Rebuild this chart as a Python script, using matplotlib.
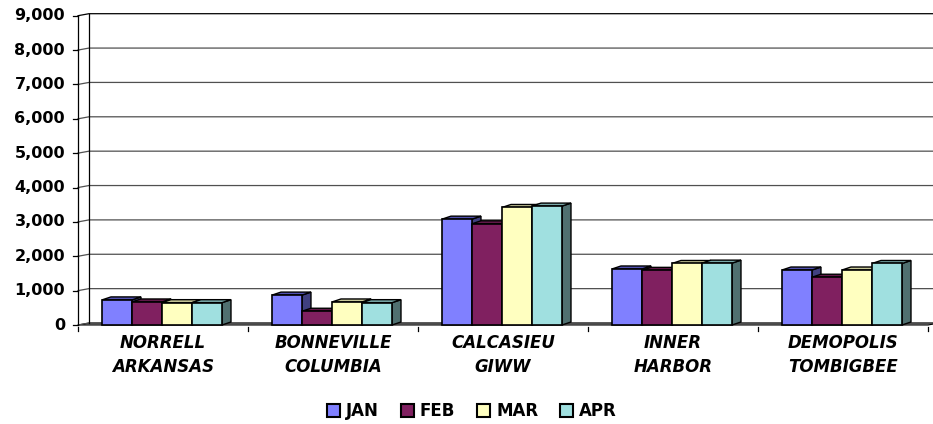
import matplotlib
matplotlib.use("Agg")
import matplotlib.pyplot as plt
from matplotlib.patches import Polygon, Patch
from matplotlib.transforms import IdentityTransform
import numpy as np

categories = ["NORRELL\nARKANSAS", "BONNEVILLE\nCOLUMBIA", "CALCASIEU\nGIWW", "INNER\nHARBOR", "DEMOPOLIS\nTOMBIGBEE"]
series_names = ["JAN", "FEB", "MAR", "APR"]
jan = [730, 870, 3080, 1630, 1600]
feb = [670, 400, 2945, 1590, 1390]
mar = [650, 670, 3420, 1790, 1600]
apr = [650, 650, 3460, 1800, 1790]
yticks = [0, 1000, 2000, 3000, 4000, 5000, 6000, 7000, 8000, 9000]
ytick_labels = ["0", "1,000", "2,000", "3,000", "4,000", "5,000", "6,000", "7,000", "8,000", "9,000"]

front_cols = ["#8080FF", "#802060", "#FFFFC0", "#A0E0E0"]
top_cols = ["#5050B0", "#601848", "#C8C898", "#78A8A8"]
side_cols = ["#404080", "#401030", "#808060", "#507070"]

plt.rcParams['font.family'] = ['DejaVu Sans']

W, H = 933, 424
fig = plt.figure(figsize=(W / 100, H / 100), dpi=100)
ax = fig.add_axes([78 / W, 1 - 325 / H, 850 / W, (325 - 15.7) / H])
ax.set_xlim(0, len(categories))
ax.set_ylim(0, 9000)
ax.axis("off")

T = IdentityTransform()
td = ax.transData
WDX, WDY = 11, 2.0   # wall depth (pixels)
BDX, BDY = 9, 3      # bar depth (pixels)

def disp(x, y):
    return td.transform((x, y))

# floor
p0 = disp(0, 0); p1 = disp(len(categories), 0)
floor = [p0, p1, p1 + [WDX, WDY], p0 + [WDX, WDY]]
ax.add_patch(Polygon(floor, closed=True, facecolor="#A0A0A0", edgecolor="black",
                     lw=0.8, transform=T, clip_on=False, zorder=1))

# gridlines (side wall diagonal + back wall horizontal)
for v, lab in zip(yticks, ytick_labels):
    f = disp(0, v)
    b = f + [WDX, WDY]
    ax.plot([f[0], b[0], W + 5], [f[1], b[1], b[1]], color="black" if v == 9000 else "#505050",
            lw=0.9, transform=T, clip_on=False, zorder=1)
    ax.plot([f[0] - 5, f[0]], [f[1], f[1]], color="black", lw=0.9, transform=T, clip_on=False)
    ax.text(f[0] - 13, f[1], lab, ha="right", va="center",
            fontsize=11.5, fontweight="bold", transform=T)

# back wall left edge
a = disp(0, 0) + [WDX, WDY]; bb = disp(0, 9000) + [WDX, WDY]
ax.plot([a[0], bb[0]], [a[1], bb[1]], color="black", lw=0.9, transform=T, clip_on=False)
# front value axis
a = disp(0, 0); bb = disp(0, 9000)
ax.plot([a[0], bb[0]], [a[1], bb[1]], color="black", lw=0.9, transform=T, clip_on=False, zorder=3)
# category ticks
for i in range(len(categories) + 1):
    p = disp(i, 0)
    ax.plot([p[0], p[0]], [p[1] - 2, p[1] - 6], color="black", lw=0.9, transform=T, clip_on=False)

# bars
data = [jan, feb, mar, apr]
start = 0.141
bw = 0.1765
for i in range(len(categories)):
    for k in range(4):
        h = data[k][i]
        x0 = i + start + k * bw
        x1 = x0 + bw
        bl = disp(x0, 0); br = disp(x1, 0); tl = disp(x0, h); tr = disp(x1, h)
        d = np.array([BDX, BDY])
        side = [br, br + d, tr + d, tr]
        top = [tl, tr, tr + d, tl + d]
        z = 5 + i * 10 + k
        ax.add_patch(Polygon(side, closed=True, facecolor=side_cols[k], edgecolor="black",
                             lw=1.0, transform=T, clip_on=False, zorder=z))
        ax.add_patch(Polygon(top, closed=True, facecolor=top_cols[k], edgecolor="black",
                             lw=1.0, transform=T, clip_on=False, zorder=z))
        ax.add_patch(Polygon([bl, br, tr, tl], closed=True, facecolor=front_cols[k], edgecolor="black",
                             lw=1.2, transform=T, clip_on=False, zorder=z + 0.5))

# category labels
for i, c in enumerate(categories):
    p = disp(i + 0.5, 0)
    ax.text(p[0], p[1] - 30, c, ha="center", va="center", fontsize=12, fontweight="bold",
            fontstyle="italic", linespacing=1.5, transform=T)

handles = [Patch(facecolor=front_cols[k], edgecolor="black", lw=1.5) for k in range(4)]
fig.legend(handles, series_names, loc="center", bbox_to_anchor=(472 / W, 1 - 411 / H), ncol=4,
           frameon=False, prop={"weight": "bold", "size": 12}, handlelength=0.8, handleheight=0.8,
           handletextpad=0.35, columnspacing=1.3)

fig.savefig("out.png", dpi=100)
